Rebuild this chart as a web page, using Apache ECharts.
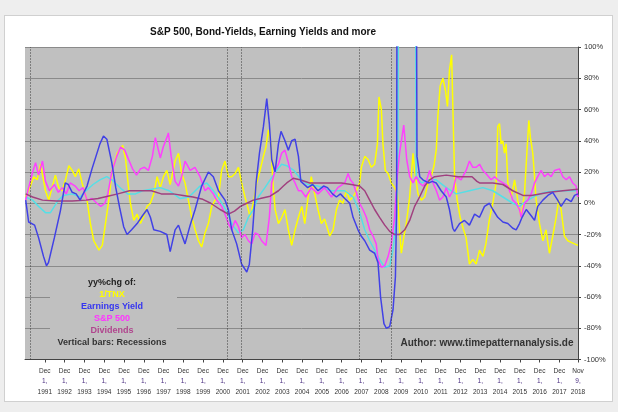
<!DOCTYPE html>
<html><head><meta charset="utf-8">
<script src="https://cdn.jsdelivr.net/npm/echarts@6/dist/echarts.min.js"></script>
<style>
html,body{margin:0;padding:0;background:#eeeeee;}
#frame{position:absolute;left:4px;top:15px;width:607px;height:385px;background:#fff;border:1px solid #d0d0d0;}
#c{position:absolute;left:0;top:0;width:618px;height:412px;}
</style>
</head><body><div id="frame"></div><div id="c"></div>
<script>
// ---- data (decimal year, yoy % change) ----
const titleText = 'S&P 500, Bond-Yields, Earning Yields and more';
const xStart = '1990-12-01';
const xEnd = '2018-11-09';
const xTickDates = ['1991-12-01','1992-12-01','1993-12-01','1994-12-01','1995-12-01','1996-12-01','1997-12-01',
  '1998-12-01','1999-12-01','2000-12-01','2001-12-01','2002-12-01','2003-12-01','2004-12-01','2005-12-01',
  '2006-12-01','2007-12-01','2008-12-01','2009-12-01','2010-12-01','2011-12-01','2012-12-01','2013-12-01',
  '2014-12-01','2015-12-01','2016-12-01','2017-12-01','2018-11-09'];
const monthNames = ['Jan','Feb','Mar','Apr','May','Jun','Jul','Aug','Sep','Oct','Nov','Dec'];
const yMin = -100, yMax = 100, yStep = 20;
const recessionYears = [1991.17, 2001.14, 2001.83, 2007.80, 2009.42];
const legendLines = ['yy%chg of:', '1/TNX', 'Earnings Yield', 'S&P 500', 'Dividends', 'Vertical bars: Recessions'];
const authorText = 'Author: www.timepatternanalysis.de';

const tnxInv = [
 [1990.94,4],[1991.1,8],[1991.36,17],[1991.53,15],[1991.7,25],[1991.95,8],[1992.12,2],[1992.28,10],[1992.45,18],
 [1992.62,10],[1992.79,8],[1992.96,15],[1993.13,24],[1993.3,21],[1993.46,17],[1993.63,22],[1993.8,13],[1994.05,2],
 [1994.22,-13],[1994.39,-24],[1994.65,-30],[1994.82,-27],[1994.98,-13],[1995.15,2],[1995.32,21],[1995.57,32],
 [1995.85,37],[1996.0,28],[1996.12,13],[1996.24,0],[1996.41,-11],[1996.58,-7],[1996.75,-13],[1996.92,-8],
 [1997.08,-2],[1997.25,0],[1997.42,6],[1997.59,17],[1997.75,10],[1997.91,17],[1998.08,21],[1998.25,12],
 [1998.5,27],[1998.67,32],[1998.83,19],[1999.0,13],[1999.17,2],[1999.34,-9],[1999.51,-17],[1999.68,-24],
 [1999.84,-28],[2000.01,-19],[2000.18,-13],[2000.35,-2],[2000.52,2],[2000.69,4],[2000.85,21],[2001.02,27],
 [2001.19,17],[2001.36,17],[2001.53,19],[2001.7,23],[2001.86,13],[2002.03,4],[2002.2,-4],[2002.29,-9],
 [2002.45,0],[2002.62,13],[2002.79,21],[2002.96,30],[2003.09,36],[2003.21,47],[2003.33,38],[2003.46,10],
 [2003.55,-4],[2003.72,-13],[2003.89,-9],[2004.05,-4],[2004.22,-17],[2004.39,-27],[2004.56,-17],[2004.73,-9],
 [2004.9,-2],[2005.05,-13],[2005.22,4],[2005.38,17],[2005.55,6],[2005.72,-4],[2005.89,-13],[2006.05,-10],
 [2006.31,-21],[2006.48,-17],[2006.65,-4],[2006.81,2],[2006.98,0],[2007.15,8],[2007.32,2],[2007.49,4],
 [2007.66,8],[2007.82,13],[2007.91,23],[2008.08,30],[2008.25,28],[2008.41,23],[2008.58,25],[2008.72,38],
 [2008.8,68],[2008.92,60],[2009.0,38],[2009.12,21],[2009.26,19],[2009.42,13],[2009.59,10],[2009.73,6],
 [2009.84,-17],[2009.93,-32],[2010.06,-21],[2010.18,-13],[2010.35,4],[2010.52,32],[2010.6,21],[2010.77,6],
 [2010.94,2],[2011.11,4],[2011.28,13],[2011.44,17],[2011.58,24],[2011.7,35],[2011.77,55],[2011.89,75],
 [2012.03,80],[2012.16,72],[2012.26,62],[2012.36,85],[2012.47,95],[2012.55,52],[2012.62,17],[2012.75,2],
 [2012.9,-9],[2013.05,-16],[2013.2,-22],[2013.37,-39],[2013.54,-36],[2013.71,-39],[2013.88,-30],[2014.05,-34],
 [2014.2,-26],[2014.37,-11],[2014.55,0],[2014.72,13],[2014.8,49],[2014.89,51],[2014.97,38],[2015.06,40],
 [2015.14,32],[2015.22,38],[2015.31,13],[2015.48,4],[2015.65,15],[2015.81,2],[2015.98,-9],[2016.15,6],
 [2016.27,32],[2016.37,53],[2016.45,42],[2016.57,32],[2016.66,17],[2016.74,2],[2016.91,-13],[2017.08,-24],
 [2017.24,-17],[2017.41,-32],[2017.58,-21],[2017.75,-9],[2017.88,2],[2018.0,-4],[2018.17,-21],[2018.34,-24],
 [2018.51,-25],[2018.68,-26],[2018.85,-27]
];

const earningsYield = [
 [1990.95,2],[1991.1,-12],[1991.4,-14],[1991.6,-22],[1991.85,-34],[1992.0,-40],[1992.1,-38],[1992.4,-22],
 [1992.7,-5],[1992.95,13],[1993.1,12],[1993.3,7],[1993.5,6],[1993.7,2],[1994.05,11],[1994.3,22],[1994.5,30],
 [1994.7,38],[1994.88,43],[1995.05,41],[1995.3,26],[1995.5,10],[1995.7,-3],[1995.9,-15],[1996.07,-20],
 [1996.3,-17],[1996.58,-13],[1996.85,-8],[1997.08,-4],[1997.25,-9],[1997.42,-17],[1997.75,-18],[1998.08,-20],
 [1998.25,-31],[1998.5,-17],[1998.67,-14],[1998.83,-20],[1999.0,-26],[1999.26,-14],[1999.51,-4],[1999.84,11],
 [2000.18,20],[2000.43,17],[2000.69,8],[2001.02,2],[2001.19,-4],[2001.36,-17],[2001.61,-26],[2001.86,-39],
 [2002.12,-44],[2002.25,-39],[2002.42,-17],[2002.59,13],[2002.76,32],[2002.96,49],[2003.13,67],[2003.26,51],
 [2003.38,28],[2003.55,20],[2003.72,38],[2003.85,46],[2004.05,40],[2004.22,34],[2004.39,40],[2004.56,41],
 [2004.73,30],[2004.85,14],[2005.2,10],[2005.45,12],[2005.72,8],[2006.0,11],[2006.2,10],[2006.45,6],
 [2006.65,4],[2006.85,6],[2007.07,3],[2007.32,0],[2007.49,-9],[2007.74,-17],[2007.9,-21],[2008.08,-24],
 [2008.33,-30],[2008.58,-32],[2008.75,-38],[2008.88,-60],[2009.05,-77],[2009.17,-80],[2009.34,-79],
 [2009.51,-68],[2009.63,-47],[2009.69,-4],[2009.76,500],[2010.6,500],[2010.72,30],[2010.86,17],[2011.02,15],
 [2011.3,13],[2011.5,14],[2011.69,13],[2011.94,8],[2012.2,4],[2012.36,-4],[2012.53,-16],[2012.62,-18],
 [2012.87,-13],[2013.12,-11],[2013.37,-14],[2013.63,-7],[2013.88,-9],[2014.13,-2],[2014.38,0],[2014.55,-4],
 [2014.8,-9],[2015.06,-12],[2015.31,-13],[2015.56,-16],[2015.73,-17],[2015.9,-13],[2016.03,-9],[2016.24,-4],
 [2016.49,-8],[2016.66,-11],[2016.82,-2],[2017.08,2],[2017.33,5],[2017.58,7],[2017.83,2],[2018.0,-2],
 [2018.26,3],[2018.51,1],[2018.68,5],[2018.85,6]
];

const sp500 = [
 [1990.95,2],[1991.1,10],[1991.3,20],[1991.45,26],[1991.6,18],[1991.8,27],[1991.95,14],[1992.15,8],[1992.4,12],
 [1992.6,7],[1992.8,10],[1993.0,6],[1993.2,13],[1993.45,11],[1993.65,8],[1993.85,10],[1994.05,2],[1994.3,3],
 [1994.55,0],[1994.75,-2],[1994.95,0],[1995.1,6],[1995.3,20],[1995.55,30],[1995.75,36],[1995.95,34],[1996.15,28],
 [1996.35,22],[1996.55,18],[1996.75,22],[1996.95,23],[1997.15,21],[1997.35,30],[1997.5,42],[1997.62,36],
 [1997.75,29],[1997.9,36],[1998.08,42],[1998.16,45],[1998.3,30],[1998.5,14],[1998.67,11],[1998.83,17],
 [1999.0,27],[1999.26,21],[1999.5,23],[1999.76,17],[2000.01,8],[2000.18,10],[2000.43,6],[2000.6,2],
 [2000.85,-2],[2001.02,-7],[2001.19,-13],[2001.36,-17],[2001.53,-11],[2001.7,-15],[2001.86,-22],[2002.03,-20],
 [2002.2,-24],[2002.37,-26],[2002.54,-19],[2002.7,-20],[2002.87,-24],[2003.09,-27],[2003.26,-9],[2003.38,13],
 [2003.55,21],[2003.72,25],[2003.88,32],[2004.05,34],[2004.22,26],[2004.39,17],[2004.56,13],[2004.73,8],
 [2004.88,8],[2005.1,4],[2005.38,10],[2005.72,6],[2006.05,10],[2006.4,4],[2006.72,10],[2007.07,13],
 [2007.24,19],[2007.35,15],[2007.49,13],[2007.65,7],[2007.82,0],[2007.99,-4],[2008.16,-9],[2008.33,-17],
 [2008.5,-21],[2008.66,-26],[2008.75,-36],[2008.92,-41],[2009.09,-40],[2009.26,-34],[2009.42,-26],[2009.59,-9],
 [2009.72,17],[2009.84,32],[2010.05,50],[2010.12,40],[2010.2,28],[2010.35,17],[2010.52,13],[2010.68,17],
 [2010.85,13],[2011.02,11],[2011.19,14],[2011.36,21],[2011.53,13],[2011.7,8],[2011.86,2],[2012.03,4],
 [2012.2,10],[2012.36,4],[2012.53,8],[2012.7,17],[2012.95,15],[2013.2,21],[2013.37,27],[2013.54,23],
 [2013.71,23],[2013.88,25],[2014.05,21],[2014.2,19],[2014.47,15],[2014.64,17],[2014.8,15],[2015.06,13],
 [2015.31,11],[2015.56,2],[2015.73,0],[2015.9,-4],[2015.98,-9],[2016.15,0],[2016.32,2],[2016.49,6],
 [2016.66,13],[2016.82,17],[2016.99,21],[2017.16,17],[2017.33,19],[2017.5,17],[2017.67,21],[2017.92,22],
 [2018.09,17],[2018.26,15],[2018.42,17],[2018.59,13],[2018.76,11],[2018.85,4]
];

const dividends = [
 [1990.95,6],[1991.3,4],[1991.8,2],[1992.5,1.5],[1993.3,1.5],[1994.0,2],[1994.6,3],[1995.1,4.5],[1995.6,6],
 [1996.2,8],[1996.8,8],[1997.3,8],[1997.8,6],[1998.4,6],[1998.9,5],[1999.4,4],[1999.9,2.5],[2000.3,0],
 [2000.77,-4],[2001.19,-7],[2001.5,-5],[2001.8,-2],[2002.12,0],[2002.45,2],[2002.8,3],[2003.3,4.5],[2003.72,8],
 [2003.97,11],[2004.14,13],[2004.47,16],[2004.8,15],[2005.3,13],[2005.8,13],[2006.3,13],[2006.9,13],
 [2007.4,12],[2007.82,11],[2008.08,8],[2008.33,2],[2008.58,-4],[2008.83,-9],[2009.09,-14],[2009.34,-18],
 [2009.59,-20],[2009.84,-20],[2010.1,-17],[2010.35,-11],[2010.6,-2],[2010.85,4],[2011.11,11],[2011.36,15],
 [2011.61,17],[2012.2,18],[2012.8,17],[2013.5,17],[2013.75,14],[2013.88,13],[2014.55,13],[2015.06,12],
 [2015.56,8],[2016.07,5],[2016.5,5],[2017.41,7],[2018.09,8],[2018.85,9]
];

const smoothSeries = [
 [1990.95,4],[1991.3,2],[1991.6,-2],[1991.95,-6],[1992.2,-6],[1992.6,2],[1992.85,5],[1993.3,6],[1993.7,4],
 [1994.0,8],[1994.35,12],[1994.7,15],[1995.05,17],[1995.3,15],[1995.55,12],[1995.8,9],[1996.1,6],[1996.5,6],
 [1996.85,8],[1997.3,9],[1997.74,10],[1998.2,8],[1998.75,3],[1999.2,4],[1999.76,11],[2000.1,13],[2000.43,8],
 [2000.77,2],[2001.1,-5],[2001.4,-14],[2001.7,-19],[2001.95,-17],[2002.2,-9],[2002.45,-4],[2002.7,4],
 [2003.04,10],[2003.3,15],[2003.63,21],[2003.88,25],[2004.14,24],[2004.5,21],[2004.81,16],[2005.2,12],
 [2005.7,11],[2006.4,8],[2007.07,8],[2007.49,4],[2007.8,-5],[2008.08,-17],[2008.33,-24],[2008.58,-30],
 [2008.83,-36],[2009.09,-41],[2009.34,-40],[2009.51,-30],[2009.68,-9],[2009.76,38],[2009.86,500],
 [2010.55,500],[2010.68,17],[2010.95,13],[2011.28,15],[2011.69,15],[2012.2,10],[2012.7,6],[2013.37,8],
 [2014.05,10],[2014.55,8],[2015.06,4],[2015.56,0],[2015.9,-2],[2016.2,1],[2016.74,5],[2017.2,7],[2017.75,8],
 [2018.3,8],[2018.85,8]
];

// ---- helpers ----
function decYear(s) {
  const d = new Date(s + 'T00:00:00Z');
  const y = d.getUTCFullYear();
  const a = Date.UTC(y, 0, 1), b = Date.UTC(y + 1, 0, 1);
  return y + (d.getTime() - a) / (b - a);
}
const xTickValues = xTickDates.map(decYear);
function tickLabel(v) {
  let best = 0, bd = 1e9;
  xTickValues.forEach((t, i) => { const dd = Math.abs(t - v); if (dd < bd) { bd = dd; best = i; } });
  const d = new Date(xTickDates[best] + 'T00:00:00Z');
  return '{m|' + monthNames[d.getUTCMonth()] + '}\n{d|' + d.getUTCDate() + ',}\n{y|' + d.getUTCFullYear() + '}';
}

const FONT = '"Liberation Sans", Arial, sans-serif';
const chart = echarts.init(document.getElementById('c'), null, {renderer: 'canvas'});

function lineSeries(name, data, color, extra) {
  return Object.assign({
    name, type: 'line', data, showSymbol: false, symbol: 'none', clip: true,
    lineStyle: {color, width: 1.5}, itemStyle: {color}, animation: false, silent: true
  }, extra || {});
}

const legendColors = ['#222222', '#ffff00', '#3535f0', '#ff33ff', '#b0468e', '#333333'];
const legendGraphic = [{
  type: 'rect', shape: {x: 50, y: 276, width: 127, height: 72}, style: {fill: '#c0c0c0'}, z: 50, silent: true
}].concat(legendLines.map((t, i) => ({
  type: 'text', x: 112, y: 283 + i * 12, z: 51, silent: true,
  style: {text: t, fill: legendColors[i], font: 'bold 9px ' + FONT, textAlign: 'center', textVerticalAlign: 'middle'}
})));

chart.setOption({
  animation: false,
  backgroundColor: 'transparent',
  textStyle: {fontFamily: FONT},
  grid: {left: 25, right: 40, top: 47, bottom: 52.5, show: true, backgroundColor: '#c0c0c0', borderWidth: 0},
  xAxis: {
    type: 'value', min: decYear(xStart), max: decYear(xEnd),
    splitLine: {show: false},
    axisLine: {show: true, onZero: false, lineStyle: {color: '#444', width: 1}},
    axisTick: {show: true, customValues: xTickValues, length: 3, lineStyle: {color: '#444'}},
    axisLabel: {
      customValues: xTickValues, margin: 6, formatter: tickLabel,
      rich: {
        m: {fontSize: 6.5, color: '#333', lineHeight: 10.5, fontFamily: FONT},
        d: {fontSize: 6.5, color: '#4a2f80', lineHeight: 10.5, fontFamily: FONT},
        y: {fontSize: 6.5, color: '#333', lineHeight: 10.5, fontFamily: FONT}
      }
    }
  },
  yAxis: {
    type: 'value', position: 'right', min: yMin, max: yMax, interval: yStep,
    axisLine: {show: true, lineStyle: {color: '#444', width: 1}},
    axisTick: {show: true, length: 3, lineStyle: {color: '#444'}},
    axisLabel: {formatter: '{value}%', fontSize: 7.5, color: '#333', margin: 6},
    splitLine: {show: true, lineStyle: {color: '#8a8a8a', width: 1}}
  },
  series: [
    lineSeries('1/TNX', tnxInv, '#ffff00', {
      markLine: {
        silent: true, symbol: ['none', 'none'], label: {show: false}, animation: false,
        lineStyle: {type: [1, 2], color: '#3a3a3a', width: 1},
        data: recessionYears.map(v => ({xAxis: v}))
      }
    }),
    lineSeries('Smoothed', smoothSeries, '#55dfe6'),
    lineSeries('S&P 500', sp500, '#ff40ff'),
    lineSeries('Dividends', dividends, '#a0407f'),
    lineSeries('Earnings Yield', earningsYield, '#4141e6')
  ],
  graphic: [
    {type: 'text', x: 263, y: 32, z: 60, silent: true,
     style: {text: titleText, fill: '#111', font: 'bold 10px ' + FONT, textAlign: 'center', textVerticalAlign: 'middle'}},
    {type: 'text', x: 487, y: 343, z: 60, silent: true,
     style: {text: authorText, fill: '#333', font: 'bold 10px ' + FONT, textAlign: 'center', textVerticalAlign: 'middle'}}
  ].concat(legendGraphic)
});
</script>
</body></html>
